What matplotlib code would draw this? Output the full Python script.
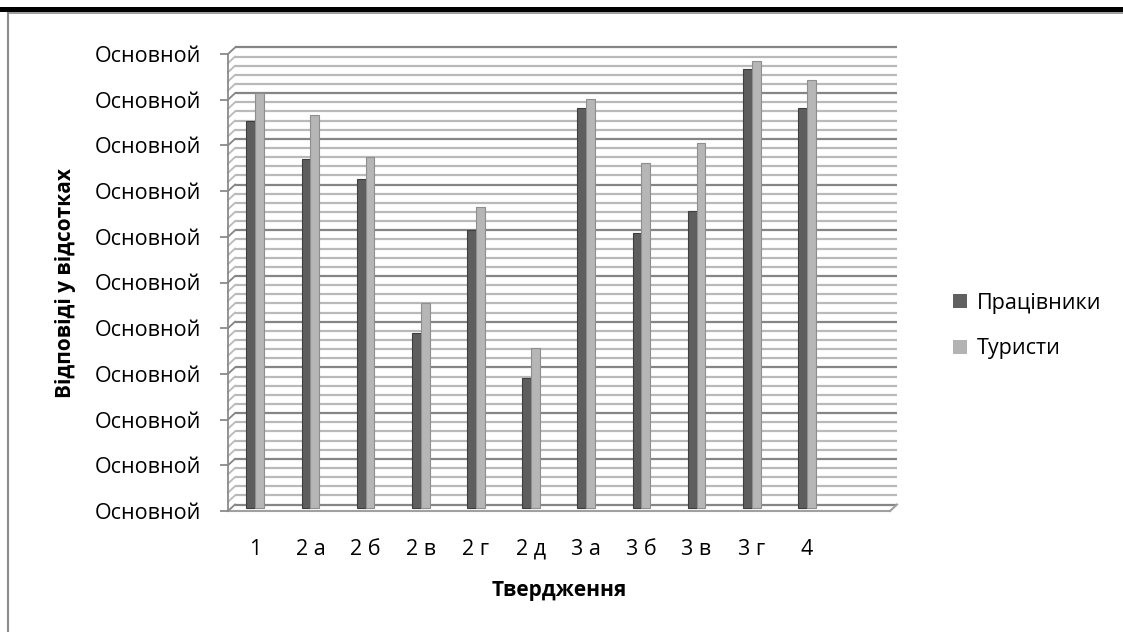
import numpy as np
import matplotlib
matplotlib.use("Agg")
import matplotlib.pyplot as plt
from matplotlib.patches import Patch, Rectangle
from matplotlib.lines import Line2D

plt.rcParams["font.family"] = ["Open Sans", "DejaVu Sans"]

# ------------------------------------------------------------
# Дані (%)
# ------------------------------------------------------------
categories = ["1", "2 а", "2 б", "2 в", "2 г", "2 д", "3 а", "3 б", "3 в", "3 г", "4"]
workers = [84.6, 76.3, 71.9, 38.2, 60.7, 28.3, 87.4, 60.1, 64.9, 96.1, 87.4]
tourists = [90.8, 85.9, 76.7, 44.7, 65.8, 34.9, 89.4, 75.4, 79.8, 97.8, 93.7]
series_names = ["Працівники", "Туристи"]
y_ticks = list(range(0, 101, 10))
y_tick_label = "Основной"

W, H = 1123, 632
DPI = 100

# геометрія "3D" області (пікселі)
X0, X1 = 228, 890      # передня площина по x
YB, YT = 511, 54       # передня площина по y (низ, верх)
DEPTH_DX, DEPTH_DY = 7, 6.5
N_SLOTS = 12

fig = plt.figure(figsize=(W / DPI, H / DPI), dpi=DPI)
ax = fig.add_axes([X0 / W, (H - YB) / H, (X1 - X0) / W, (YB - YT) / H])
ax.set_xlim(0, N_SLOTS)
ax.set_ylim(0, 100)
for s in ["top", "right", "bottom"]:
    ax.spines[s].set_visible(False)
ax.spines["left"].set_color("#8a8a8a")
ax.spines["left"].set_linewidth(1.3)

# зсув глибини у координатах даних
ddx = DEPTH_DX / ((X1 - X0) / N_SLOTS)
ddy = DEPTH_DY / ((YB - YT) / 100)

# сітка: задня стінка + бічна стінка
for v in np.arange(0, 101, 2):
    major = v % 10 == 0
    col = "#858585" if major else "#b9b9b9"
    ax.plot([ddx, N_SLOTS + ddx], [v + ddy, v + ddy], color=col, lw=1.6,
            clip_on=False, zorder=1, solid_capstyle="butt")
    ax.plot([0, ddx], [v, v + ddy], color=col, lw=1.3, clip_on=False, zorder=1)

# підлога
ax.plot([0, N_SLOTS], [0, 0], color="#a0a0a0", lw=1.5, clip_on=False, zorder=1)
ax.plot([N_SLOTS, N_SLOTS + ddx], [0, ddy], color="#a0a0a0", lw=1.5, clip_on=False, zorder=1)

# стовпці (посередині глибини)
mx, my = ddx / 2, ddy / 2
pos = np.arange(len(categories)) + 0.43 + mx
w = 0.16
ax.bar(pos - w / 2, workers, width=w, bottom=my, color="#5e5e5e",
       edgecolor="#3e3e3e", linewidth=0.8, zorder=3, clip_on=False)
ax.bar(pos + w / 2, tourists, width=w, bottom=my, color="#b6b6b6",
       edgecolor="#8e8e8e", linewidth=0.8, zorder=3, clip_on=False)

# осі
ax.set_yticks(y_ticks)
ax.set_yticklabels([y_tick_label] * len(y_ticks))
ax.tick_params(axis="y", length=6, width=1.3, color="#8a8a8a", pad=13,
               labelsize=15.5)
ax.set_xticks(pos)
ax.set_xticklabels(categories)
ax.tick_params(axis="x", length=0, pad=20, labelsize=15.5)

ax.set_ylabel("Відповіді у відсотках", fontsize=15, fontweight="bold", va="center")
ax.yaxis.set_label_coords(-0.246, 0.5)
ax.set_xlabel("Твердження", fontsize=15, fontweight="bold", va="center")
ax.xaxis.set_label_coords(0.5, -0.173)

# легенда
handles = [Patch(facecolor="#606060", edgecolor="none"),
           Patch(facecolor="#b3b3b3", edgecolor="none")]
fig.legend(handles, series_names, loc="center left",
           bbox_to_anchor=(934 / W, 1 - 326 / H), frameon=False,
           fontsize=15.5, handlelength=0.65, handleheight=0.65,
           handletextpad=0.45, labelspacing=1.15)

# рамка
fig.add_artist(Rectangle((0, (H - 11.5) / H), 1, 4 / H, transform=fig.transFigure,
                         facecolor="black", edgecolor="none"))
fig.add_artist(Line2D([8 / W, 1], [1 - 12.5 / H, 1 - 12.5 / H],
                      transform=fig.transFigure, color="#8c8c8c", lw=1.2))
fig.add_artist(Line2D([8 / W, 8 / W], [0, 1 - 12.5 / H],
                      transform=fig.transFigure, color="#8c8c8c", lw=1.5))

fig.savefig("out.png", dpi=DPI)
